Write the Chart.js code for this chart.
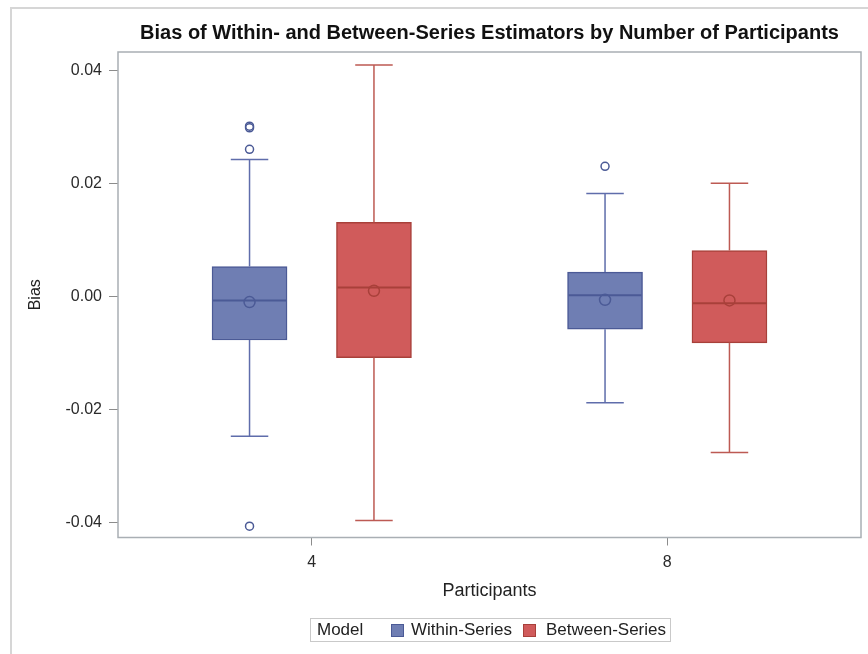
<!DOCTYPE html>
<html>
<head>
<meta charset="utf-8">
<title>Bias of Within- and Between-Series Estimators</title>
<script src="https://cdn.jsdelivr.net/npm/chart.js@4.4.1/dist/chart.umd.min.js"></script>
<style>
  html, body { margin: 0; padding: 0; background: #fff; }
  #wrap { position: relative; width: 868px; height: 654px; overflow: hidden;
          font-family: "Liberation Sans", Arial, sans-serif; }
  #frame { position: absolute; left: 10px; top: 7px; width: 900px; height: 700px;
           border-left: 2px solid #d6d6d6; border-top: 2px solid #d6d6d6; }
  canvas { position: absolute; left: 0; top: 0; }
  #legend { position: absolute; left: 310px; top: 618px; width: 359px; height: 22px;
            border: 1px solid #c9c9c9; font-size: 17px; color: #222; line-height: 22px; }
  #legend span { position: absolute; top: 0; white-space: nowrap; }
  #legend i { position: absolute; top: 5px; width: 11px; height: 11px; border: 1px solid; }
</style>
</head>
<body>
<div id="wrap">
  <div id="frame"></div>
  <canvas id="chart" width="868" height="654"></canvas>
  <div id="legend">
    <span style="left:6px">Model</span>
    <i style="left:80px;background:#6f7eb3;border-color:#4b5a96"></i>
    <span style="left:100px">Within-Series</span>
    <i style="left:212px;background:#d05b5b;border-color:#a8403a"></i>
    <span style="left:235px">Between-Series</span>
  </div>
</div>
<script>
// Number of participants (x categories)
const participants = [4, 8];
const yTicks = [-0.04, -0.02, 0.00, 0.02, 0.04];

// Within-Series estimator: five-number summary, mean and outliers
const withinMin    = [-0.0247, -0.0188];
const withinQ1     = [-0.0077, -0.0058];
const withinMedian = [-0.0007,  0.0002];
const withinMean   = [-0.0010, -0.0006];
const withinQ3     = [ 0.0053,  0.0043];
const withinMax    = [ 0.0242,  0.0182];
const withinOutliers = [[0.0298, 0.0301, 0.0260, -0.0406], [0.0230]];

// Between-Series estimator
const betweenMin    = [-0.0396, -0.0276];
const betweenQ1     = [-0.0108, -0.0082];
const betweenMedian = [ 0.0016, -0.0012];
const betweenMean   = [ 0.0010, -0.0007];
const betweenQ3     = [ 0.0131,  0.0081];
const betweenMax    = [ 0.0409,  0.0200];
const betweenOutliers = [[], []];

// styling
const FONT = '"Liberation Sans", Arial, sans-serif';
const DODGE = 0.7;      // half distance between the two boxes of a group (x units)
const X_PAD = 2.18;     // space between outer boxes and the frame (x units)
const BLUE = { fill: '#6f7eb3', line: '#4b5a96', whisker: '#5f6dab' };
const RED  = { fill: '#d05b5b', line: '#a8403a', whisker: '#bd5a53' };

function boxData(shift, q1, q3) {
  return participants.map((p, i) => ({ x: p + shift, y: [q1[i], q3[i]] }));
}
function pointData(shift, values) {
  return participants.map((p, i) => ({ x: p + shift, y: values[i] }));
}
function outlierData(shift, lists) {
  const out = [];
  participants.forEach((p, i) => lists[i].forEach(v => out.push({ x: p + shift, y: v })));
  return out;
}

// whiskers, caps and median lines drawn right after each box dataset
const boxWhiskers = {
  id: 'boxWhiskers',
  afterDatasetDraw(chart, args) {
    const ds = chart.data.datasets[args.index];
    if (!ds.stats) return;
    const y = chart.scales.y;
    const ctx = chart.ctx;
    ctx.save();
    args.meta.data.forEach((bar, i) => {
      const cx = bar.x;
      const half = bar.width / 2;
      const cap = bar.width / 4;
      const pLo = y.getPixelForValue(ds.stats.min[i]);
      const pHi = y.getPixelForValue(ds.stats.max[i]);
      const pQ1 = y.getPixelForValue(ds.stats.q1[i]);
      const pQ3 = y.getPixelForValue(ds.stats.q3[i]);
      const pMed = y.getPixelForValue(ds.stats.median[i]);
      ctx.strokeStyle = ds.whiskerColor;
      ctx.lineWidth = 1.5;
      ctx.beginPath();
      ctx.moveTo(cx, pQ3); ctx.lineTo(cx, pHi);
      ctx.moveTo(cx - cap, pHi); ctx.lineTo(cx + cap, pHi);
      ctx.moveTo(cx, pQ1); ctx.lineTo(cx, pLo);
      ctx.moveTo(cx - cap, pLo); ctx.lineTo(cx + cap, pLo);
      ctx.stroke();
      ctx.strokeStyle = ds.borderColor;
      ctx.lineWidth = 2;
      ctx.beginPath();
      ctx.moveTo(cx - half + 1, pMed); ctx.lineTo(cx + half - 1, pMed);
      ctx.stroke();
    });
    ctx.restore();
  }
};

// grey frame round the plot area
const plotFrame = {
  id: 'plotFrame',
  afterDraw(chart) {
    const a = chart.chartArea;
    const ctx = chart.ctx;
    ctx.save();
    ctx.strokeStyle = '#a9afb4';
    ctx.lineWidth = 1.5;
    ctx.strokeRect(a.left, a.top, a.right - a.left, a.bottom - a.top);
    ctx.restore();
  }
};

const boxCommon = {
  type: 'bar', order: 2, borderWidth: 1.5, borderSkipped: false,
  barThickness: 75, grouped: false
};
const markCommon = {
  type: 'scatter', order: 1, pointStyle: 'circle', backgroundColor: 'rgba(0,0,0,0)',
  borderWidth: 1.5
};

new Chart(document.getElementById('chart'), {
  type: 'bar',
  data: {
    datasets: [
      Object.assign({}, boxCommon, {
        label: 'Within-Series',
        data: boxData(-DODGE, withinQ1, withinQ3),
        backgroundColor: BLUE.fill, borderColor: BLUE.line, whiskerColor: BLUE.whisker,
        stats: { min: withinMin, q1: withinQ1, median: withinMedian, q3: withinQ3, max: withinMax }
      }),
      Object.assign({}, boxCommon, {
        label: 'Between-Series',
        data: boxData(DODGE, betweenQ1, betweenQ3),
        backgroundColor: RED.fill, borderColor: RED.line, whiskerColor: RED.whisker,
        stats: { min: betweenMin, q1: betweenQ1, median: betweenMedian, q3: betweenQ3, max: betweenMax }
      }),
      Object.assign({}, markCommon, {
        label: 'Within-Series mean', data: pointData(-DODGE, withinMean),
        borderColor: BLUE.line, pointRadius: 5.5
      }),
      Object.assign({}, markCommon, {
        label: 'Between-Series mean', data: pointData(DODGE, betweenMean),
        borderColor: RED.line, pointRadius: 5.5
      }),
      Object.assign({}, markCommon, {
        label: 'Within-Series outliers', data: outlierData(-DODGE, withinOutliers),
        borderColor: BLUE.line, pointRadius: 4
      }),
      Object.assign({}, markCommon, {
        label: 'Between-Series outliers', data: outlierData(DODGE, betweenOutliers),
        borderColor: RED.line, pointRadius: 4
      })
    ]
  },
  options: {
    responsive: false,
    animation: false,
    events: [],
    layout: { padding: { left: 12, right: 6, top: 8, bottom: 52 } },
    plugins: {
      legend: { display: false },
      tooltip: { enabled: false },
      title: {
        display: true,
        fullSize: false,
        text: 'Bias of Within- and Between-Series Estimators by Number of Participants',
        color: '#111',
        font: { family: FONT, size: 20, weight: 'bold', lineHeight: 1.2 },
        padding: { top: 13, bottom: 7 }
      }
    },
    scales: {
      x: {
        type: 'linear',
        offset: false,
        min: participants[0] - X_PAD,
        max: participants[participants.length - 1] + X_PAD,
        afterBuildTicks: s => { s.ticks = participants.map(v => ({ value: v })); },
        afterFit: s => { s.height = 64.5; },
        grid: { offset: false, drawOnChartArea: false, drawTicks: true, tickLength: 8, tickColor: '#8c8c8c', lineWidth: 1 },
        border: { display: false },
        ticks: { color: '#2a2a2a', padding: 7, font: { family: FONT, size: 16 }, callback: v => String(v) },
        title: { display: true, text: 'Participants', color: '#222',
                 font: { family: FONT, size: 18, lineHeight: 1.2 }, padding: { top: 0, bottom: 0 } }
      },
      y: {
        type: 'linear',
        min: -0.0426,
        max: 0.0432,
        afterBuildTicks: s => { s.ticks = yTicks.map(v => ({ value: v })); },
        afterFit: s => { s.width = 106; },
        grid: { drawOnChartArea: false, drawTicks: true, tickLength: 9, tickColor: '#8c8c8c', lineWidth: 1 },
        border: { display: false },
        ticks: { color: '#2a2a2a', padding: 7, font: { family: FONT, size: 16 }, callback: v => v.toFixed(2) },
        title: { display: true, text: 'Bias', color: '#222',
                 font: { family: FONT, size: 16, lineHeight: 1.2 }, padding: { top: 13.5, bottom: 0 } }
      }
    }
  },
  plugins: [boxWhiskers, plotFrame]
});
</script>
</body>
</html>
